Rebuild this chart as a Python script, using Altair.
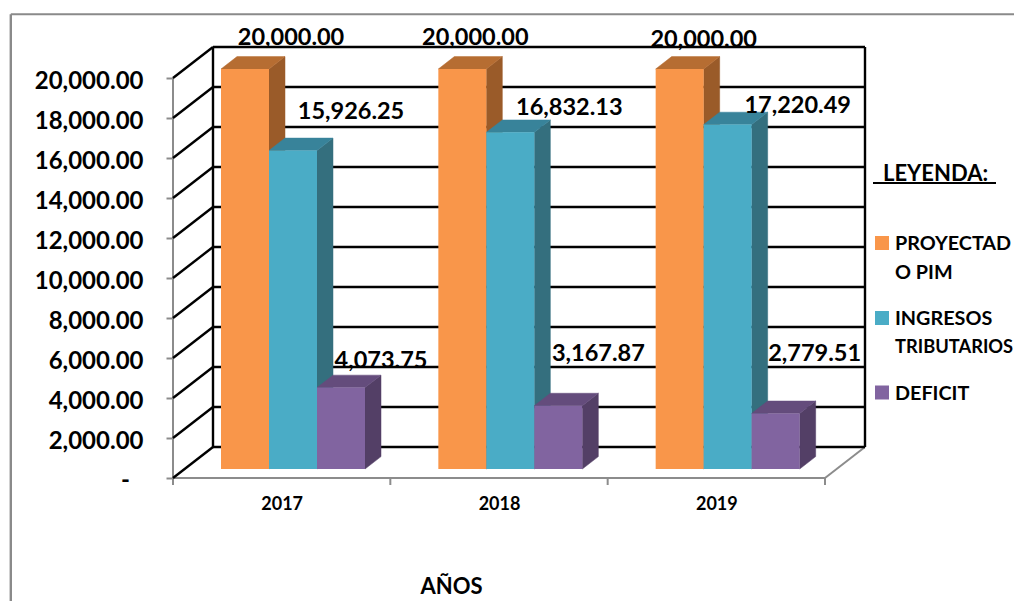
import altair as alt
import pandas as pd

YEARS = ["2017", "2018", "2019"]
SERIES = ["PROYECTADO PIM", "INGRESOS TRIBUTARIOS", "DEFICIT"]
PROYECTADO = [20000.00, 20000.00, 20000.00]
INGRESOS = [15926.25, 16832.13, 17220.49]
DEFICIT = [4073.75, 3167.87, 2779.51]
Y_TICKS = [0, 2000, 4000, 6000, 8000, 10000, 12000, 14000, 16000, 18000, 20000]

# ---- layout / style (not data) ----
W, H = 1006, 593
ORIGIN_X, ORIGIN_Y = 165, 470            # plot-area pixel of (category 0, value 0)
PX_CAT = 652 / 3                         # pixels per category
PX_VAL = 0.02                            # pixels per value unit
DEPTH_X, DEPTH_Y = 40 / PX_CAT, 31 / PX_VAL
D0, D1 = 0.29, 0.69
GAP, BAR_W = 0.1675, 48 / PX_CAT
FACE = [("#F9964A", "#9A5B29", "#B66D32"),
        ("#4AACC6", "#346F7E", "#38839A"),
        ("#8164A0", "#533F66", "#644C7C")]
LABEL_DX = [[46, 13, 24], [58, 59, 70], [40, 40, 39]]
LABEL_DY = [[-31.5, -31.5, -29.5], [-38.5, -24.5, -19], [-27, -52, -59.5]]
FONT = "Lato"

x_scale = alt.Scale(domain=[-ORIGIN_X / PX_CAT, (W - ORIGIN_X) / PX_CAT], nice=False, zero=False)
y_scale = alt.Scale(domain=[-(H - ORIGIN_Y) / PX_VAL, ORIGIN_Y / PX_VAL], nice=False, zero=False)


def X(axis=None):
    return alt.X("x:Q", scale=x_scale, axis=axis)


def Y(axis=None):
    return alt.Y("y:Q", scale=y_scale, axis=axis)


# ---- walls and axes lines ----
black, gray = [], []
top_v = Y_TICKS[-1]
for v in Y_TICKS:
    black.append(dict(x=0, y=v, x2=DEPTH_X, y2=v + DEPTH_Y))
    black.append(dict(x=DEPTH_X, y=v + DEPTH_Y, x2=3 + DEPTH_X, y2=v + DEPTH_Y))
black.append(dict(x=DEPTH_X, y=DEPTH_Y, x2=DEPTH_X, y2=top_v + DEPTH_Y))
black.append(dict(x=3 + DEPTH_X, y=DEPTH_Y, x2=3 + DEPTH_X, y2=top_v + DEPTH_Y))
gray.append(dict(x=0, y=0, x2=0, y2=top_v))
gray.append(dict(x=0, y=0, x2=3, y2=0))
gray.append(dict(x=3, y=0, x2=3 + DEPTH_X, y2=DEPTH_Y))
for i in range(4):
    gray.append(dict(x=i, y=0, x2=i, y2=-7 / PX_VAL))


def rules(rows, color, width):
    return alt.Chart(pd.DataFrame(rows)).mark_rule(color=color, strokeWidth=width).encode(
        x=X(), y=Y(), x2="x2:Q", y2="y2:Q")


gray_rules = rules(gray, "#8C8C8C", 2)
black_rules = rules(black, "#000000", 2.4)

# invisible carrier of the real axes
axis_src = pd.DataFrame({"x": [0.5, 1.5, 2.5], "y": [0, 0, 0]})
year_expr = "[" + ",".join(f"'{y}'" for y in YEARS) + "][floor(datum.value)]"
axes = alt.Chart(axis_src).mark_point(opacity=0).encode(
    x=X(alt.Axis(values=[0.5, 1.5, 2.5], labelExpr=year_expr, orient="bottom", offset=ORIGIN_Y - H,
                 domain=False, ticks=False, grid=False, labelFont=FONT, labelFontSize=18,
                 labelFontWeight="bold", labelColor="black", labelPadding=17, labelAngle=0,
                 title="AÑOS", titleFont=FONT, titleFontSize=22, titleFontWeight="bold",
                 titleColor="black", titleX=443, titleY=98, titleAnchor="middle", titleAlign="center")),
    y=Y(alt.Axis(values=Y_TICKS, orient="left", offset=-ORIGIN_X, domain=False, grid=False,
                 tickColor="#8C8C8C", tickWidth=2, tickSize=7, labelPadding=23,
                 labelExpr="datum.value === 0 ? '' : format(datum.value, ',.2f')",
                 labelFont=FONT, labelFontSize=24, labelFontWeight="bold", labelColor="black",
                 labelOffset=3.5, labelFlush=False, labelOverlap=False, title=None)),
)
zero_label = alt.Chart(pd.DataFrame({"x": [0], "y": [0], "t": ["-"]})).mark_text(
    font=FONT, fontSize=24, fontWeight="bold", color="black", align="center", baseline="middle",
    dx=-47.5, dy=3
).encode(x=X(), y=Y(), text="t:N")

# ---- 3-D bars ----
layers = []
values = [PROYECTADO, INGRESOS, DEFICIT]
base = D0 * DEPTH_Y
dd_x, dd_y = (D1 - D0) * DEPTH_X, (D1 - D0) * DEPTH_Y
for s, vals in enumerate(values):
    front, side, top = [], [], []
    for i, v in enumerate(vals):
        xl = i + GAP + s * BAR_W + D0 * DEPTH_X
        xr = xl + BAR_W
        t = base + v
        front.append(dict(x=xl, x2=xr, y=base, y2=t))
        side += [dict(id=i, x=xr, y=base, y2=t), dict(id=i, x=xr + dd_x, y=base + dd_y, y2=t + dd_y)]
        top += [dict(id=i, x=xl, x2=xr, y=t), dict(id=i, x=xl + dd_x, x2=xr + dd_x, y=t + dd_y)]
    c_front, c_side, c_top = FACE[s]
    layers.append(alt.Chart(pd.DataFrame(side)).mark_area(orient="vertical", color=c_side, stroke=c_side, strokeWidth=0.5)
                  .encode(x=X(), y=Y(), y2="y2:Q", detail="id:N"))
    layers.append(alt.Chart(pd.DataFrame(top)).mark_area(orient="horizontal", color=c_top, stroke=c_top, strokeWidth=0.5)
                  .encode(x=X(), x2="x2:Q", y=Y(), detail="id:N"))
    layers.append(alt.Chart(pd.DataFrame(front)).mark_rect(color=c_front)
                  .encode(x=X(), x2="x2:Q", y=Y(), y2="y2:Q"))

# ---- value labels ----
lab = []
for s, vals in enumerate(values):
    for i, v in enumerate(vals):
        xc = i + GAP + s * BAR_W + D0 * DEPTH_X + BAR_W / 2
        lab.append(dict(x=xc + LABEL_DX[s][i] / PX_CAT,
                        y=base + v - LABEL_DY[s][i] / PX_VAL,
                        t=f"{v:,.2f}"))
labels = alt.Chart(pd.DataFrame(lab)).mark_text(
    font=FONT, fontSize=23.5, fontWeight="bold", color="black", align="center", baseline="middle"
).encode(x=X(), y=Y(), text="t:N")

# ---- outer frame ----
frame_l = alt.Chart(pd.DataFrame({"a": [0]})).mark_rule(color="#8A8A8A", strokeWidth=2.4).encode(
    x=alt.value(2.8), y=alt.value(6.3), y2=alt.value(H))
frame_t = alt.Chart(pd.DataFrame({"a": [0]})).mark_rule(color="#8A8A8A", strokeWidth=2).encode(
    x=alt.value(2.8), x2=alt.value(W), y=alt.value(6.3))

# ---- hand-placed legend, as in the original ----
LEG_SWATCH = [c[0] for c in FACE]
LEG_ROWS_Y = [235, 310, 384.5]
LEG_TEXT = [("PROYECTAD", 236, 19.8), ("O PIM", 265, 19.8), ("INGRESOS", 311, 19.8),
            ("TRIBUTARIOS", 340, 18.3), ("DEFICIT", 386, 19.8)]
swatches = alt.layer(*[
    alt.Chart(pd.DataFrame({"a": [0]})).mark_square(size=196, color=c, opacity=1, filled=True)
    .encode(x=alt.value(874), y=alt.value(y))
    for c, y in zip(LEG_SWATCH, LEG_ROWS_Y)
])
leg_text = alt.layer(*[
    alt.Chart(pd.DataFrame({"t": [t]})).mark_text(font=FONT, fontSize=fs, fontWeight="bold", color="black",
                                                  align="left", baseline="middle")
    .encode(x=alt.value(887), y=alt.value(y), text="t:N")
    for t, y, fs in LEG_TEXT
])
leg_title = alt.Chart(pd.DataFrame({"t": ["LEYENDA:"]})).mark_text(
    font=FONT, fontSize=22, fontWeight="bold", color="black", align="left", baseline="middle"
).encode(x=alt.value(875), y=alt.value(165.5), text="t:N")
leg_line = alt.Chart(pd.DataFrame({"a": [0]})).mark_rule(color="black", strokeWidth=1.8).encode(
    x=alt.value(865), x2=alt.value(988), y=alt.value(175))

chart = alt.layer(
    axes, gray_rules, black_rules, *layers, labels, zero_label, frame_l, frame_t, swatches, leg_text, leg_title, leg_line
).resolve_axis(x="independent", y="independent").properties(
    width=W, height=H, padding=0, autosize=alt.AutoSizeParams(type="none"), background="white"
).configure_view(stroke=None)

chart.save("out.html", embed_options={"renderer": "svg", "actions": False})
